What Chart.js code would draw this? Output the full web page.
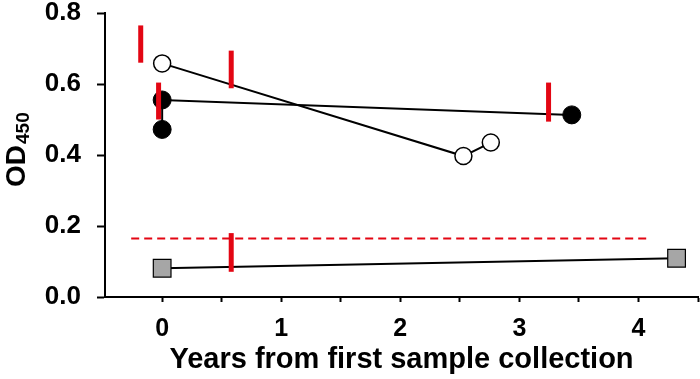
<!DOCTYPE html>
<html>
<head>
<meta charset="utf-8">
<title>OD450 over time</title>
<script src="https://cdn.jsdelivr.net/npm/chart.js@4.4.1/dist/chart.umd.min.js"></script>
<style>
  html, body { margin: 0; padding: 0; background: #fff; }
  #chart { display: block; }
</style>
</head>
<body>
<canvas id="chart" width="700" height="379"></canvas>
<script>
// Series (x = years, y = OD450)
const openX = [0, 2.53, 2.76];
const openY = [0.658, 0.397, 0.435];

const filledX = [0, 0, 3.44];
const filledY = [0.472, 0.555, 0.513];

const squareX = [0, 4.32];
const squareY = [0.081, 0.109];

// Red vertical markers: x position, low and high OD
const markerX = [-0.18, -0.03, 0.58, 3.245, 0.58];
const markerLow = [0.66, 0.50, 0.588, 0.494, 0.071];
const markerHigh = [0.765, 0.604, 0.694, 0.604, 0.18];

// Dashed cut-off line
const cutoffY = 0.165;
const cutoffFrom = -0.26;
const cutoffTo = 4.07;

// Axis ticks
const xTicks = [0, 0.5, 1, 1.5, 2, 2.5, 3, 3.5, 4, 4.5];
const yTicks = [0, 0.2, 0.4, 0.6, 0.8];

const RED = '#e30613';
const FONT = '"Liberation Sans", Arial, sans-serif';
const pts = (xs, ys) => xs.map((x, i) => ({ x, y: ys[i] }));

const markerSets = markerX.map((x, i) => ({
    data: [{ x, y: markerLow[i] }, { x, y: markerHigh[i] }],
    borderColor: RED,
    borderWidth: 5,
    borderCapStyle: 'butt',
    pointRadius: 0,
    clip: false,
    order: 0
}));

// y title with subscript, drawn as text on the canvas
const yTitle = {
    id: 'yTitle',
    afterDraw(chart) {
        const ctx = chart.ctx;
        ctx.save();
        ctx.translate(25, 187);
        ctx.rotate(-Math.PI / 2);
        ctx.fillStyle = '#000';
        ctx.textAlign = 'left';
        ctx.textBaseline = 'alphabetic';
        ctx.font = 'bold 28px ' + FONT;
        ctx.fillText('OD', 0, 0);
        const w = ctx.measureText('OD').width;
        ctx.font = 'bold 19px ' + FONT;
        ctx.fillText('450', w + 1, 4);
        ctx.restore();
    }
};

new Chart(document.getElementById('chart'), {
    type: 'line',
    data: {
        datasets: [
            ...markerSets,
            {
                data: pts(openX, openY),
                borderColor: '#000',
                borderWidth: 2,
                pointStyle: 'circle',
                pointRadius: 8.5,
                pointBackgroundColor: '#fff',
                pointBorderColor: '#000',
                pointBorderWidth: 1.5,
                clip: false,
                order: 1
            },
            {
                data: pts(filledX, filledY),
                borderColor: '#000',
                borderWidth: 2,
                pointStyle: 'circle',
                pointRadius: 9,
                pointBackgroundColor: '#000',
                pointBorderColor: '#000',
                pointBorderWidth: 1,
                clip: false,
                order: 1
            },
            {
                data: pts(squareX, squareY),
                borderColor: '#000',
                borderWidth: 2,
                pointStyle: 'rect',
                pointRadius: 12.5,
                pointBackgroundColor: '#a6a6a6',
                pointBorderColor: '#000',
                pointBorderWidth: 1.2,
                clip: false,
                order: 2
            },
            {
                data: [{ x: cutoffFrom, y: cutoffY }, { x: cutoffTo, y: cutoffY }],
                borderColor: RED,
                borderWidth: 2,
                borderDash: [8, 5],
                pointRadius: 0,
                order: 3
            }
        ]
    },
    options: {
        responsive: false,
        animation: false,
        events: [],
        layout: { autoPadding: false, padding: { top: 13, right: 2, left: 0, bottom: 0 } },
        plugins: {
            legend: { display: false },
            tooltip: { enabled: false }
        },
        elements: { line: { tension: 0 } },
        scales: {
            x: {
                type: 'linear',
                min: -0.48,
                max: 4.5,
                afterBuildTicks: (s) => { s.ticks = xTicks.map(v => ({ value: v })); },
                afterFit: (s) => {
                    s.height = 82;
                    s.paddingLeft = 0;
                    s.paddingRight = 0;
                },
                border: { color: '#000', width: 2 },
                grid: { drawOnChartArea: false, tickLength: 5, tickColor: '#000', tickWidth: 2 },
                ticks: {
                    padding: 12,
                    color: '#000',
                    font: { family: FONT, size: 25, weight: 'bold' },
                    callback: (v) => Number.isInteger(v) ? String(v) : ''
                },
                title: {
                    display: true,
                    text: 'Years from first sample collection',
                    color: '#000',
                    padding: { top: 0, bottom: 2 },
                    font: { family: FONT, size: 29, weight: 'bold' }
                }
            },
            y: {
                min: 0,
                max: 0.8,
                afterBuildTicks: (s) => { s.ticks = yTicks.map(v => ({ value: v })); },
                afterFit: (s) => {
                    s.width = 105;
                    s.paddingTop = 0;
                    s.paddingBottom = 0;
                },
                border: { color: '#000', width: 2 },
                grid: { drawOnChartArea: false, tickLength: 8, tickColor: '#000', tickWidth: 2 },
                ticks: {
                    padding: 16,
                    color: '#000',
                    font: { family: FONT, size: 26, weight: 'bold', lineHeight: 1 },
                    callback: (v) => v.toFixed(1)
                }
            }
        }
    },
    plugins: [yTitle]
});
</script>
</body>
</html>
